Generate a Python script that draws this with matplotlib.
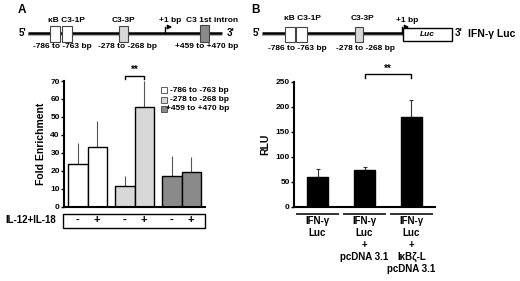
import matplotlib
matplotlib.use("Agg")
import matplotlib.pyplot as plt
from matplotlib.patches import Rectangle
import matplotlib.transforms as mtransforms

plt.rcParams['font.family'] = ['Liberation Sans', 'DejaVu Sans']
plt.rcParams['font.weight'] = 'bold'

# ---------------- data ----------------
a_regions = ["-786 to -763 bp", "-278 to -268 bp", "+459 to +470 bp"]
a_colors = ["#ffffff", "#d8d8d8", "#8a8a8a"]
a_minus = [23.7, 11.7, 17.0]
a_plus = [33.3, 55.6, 19.3]
a_minus_err = [11.5, 5.5, 11.2]
a_plus_err = [14.5, 14.2, 8.5]
a_signs = ["-", "+"]
a_yticks = [0, 10, 20, 30, 40, 50, 60, 70]

b_labels = ["IFN-γ\nLuc", "IFN-γ\nLuc\n+\npcDNA 3.1", "IFN-γ\nLuc\n+\nIκBζ-L\npcDNA 3.1"]
b_values = [60, 73, 180]
b_err = [15, 7, 33]
b_yticks = [0, 50, 100, 150, 200, 250]

W, H = 520, 281
fig = plt.figure(figsize=(W / 100, H / 100), dpi=100)

# overlay in pixel coordinates
ov = fig.add_axes([0, 0, 1, 1])
ov.set_xlim(0, W)
ov.set_ylim(H, 0)
ov.axis('off')


def px_axes(x0, x1, ytop, ybot):
    return fig.add_axes([x0 / W, (H - ybot) / H, (x1 - x0) / W, (ybot - ytop) / H])


def style_axes(ax):
    for s in ['top', 'right']:
        ax.spines[s].set_visible(False)
    ax.spines['left'].set_linewidth(1.5)
    ax.spines['bottom'].set_linewidth(1.5)
    ax.tick_params(axis='y', length=2, width=1, labelsize=6, pad=1)
    ax.tick_params(axis='x', length=0, labelbottom=False)
    ax.patch.set_alpha(0)


# ---------------- gene diagrams ----------------
def gene_line(x0, x1, y=33):
    ov.plot([x0, x1], [y + 2, y + 2], color='#b0b0b0', lw=1.6, solid_capstyle='butt', zorder=1)
    ov.plot([x0, x1], [y, y], color='black', lw=1.8, solid_capstyle='butt', zorder=2)


def box(x0, x1, y0, y1, fc):
    ov.add_patch(Rectangle((x0, y0), x1 - x0, y1 - y0, facecolor=fc, edgecolor='#444444', lw=0.8, zorder=3))


def tss(x, y=33, L=10):
    ov.plot([x, x], [y, y - 6], color='black', lw=1.0, zorder=4)
    ov.annotate('', xy=(x + L, y - 6), xytext=(x, y - 6),
                arrowprops=dict(arrowstyle='-|>', color='black', lw=1.0, mutation_scale=6), zorder=4)


tfs = 6
# Panel A diagram
ov.text(22, 10, 'A', fontsize=8.5, fontweight='bold', ha='center', va='center')
ov.text(23, 33, "5'", fontsize=7, fontweight='bold', ha='center', va='center')
gene_line(28, 222)
box(50, 60, 26, 42, 'white')
box(62, 72, 26, 42, 'white')
box(119, 128, 26, 42, '#d8d8d8')
box(200, 209, 25, 42, '#8a8a8a')
tss(165)
ov.text(231, 33, "3'", fontsize=7, fontweight='bold', ha='center', va='center')
ov.text(66, 20, 'κB C3-1P', fontsize=tfs, ha='center', va='center')
ov.text(123, 20, 'C3-3P', fontsize=tfs, ha='center', va='center')
ov.text(170, 20, '+1 bp', fontsize=tfs, ha='center', va='center')
ov.text(212, 20, 'C3 1st intron', fontsize=tfs, ha='center', va='center')
ov.text(62, 47, a_regions[0], fontsize=tfs, ha='center', va='center')
ov.text(127, 47, a_regions[1], fontsize=tfs, ha='center', va='center')
ov.text(207, 47, a_regions[2], fontsize=tfs, ha='center', va='center')

# Panel B diagram
ov.text(256, 10, 'B', fontsize=8.5, fontweight='bold', ha='center', va='center')
ov.text(257, 33, "5'", fontsize=7, fontweight='bold', ha='center', va='center')
gene_line(262, 404)
box(285, 295, 27, 42, 'white')
box(296, 307, 27, 42, 'white')
box(355, 363, 27, 42, '#d8d8d8')
tss(402)
ov.add_patch(Rectangle((403, 28), 49, 13, facecolor='white', edgecolor='black', lw=1.0, zorder=5))
ov.text(427.5, 34.5, 'Luc', fontsize=6, style='italic', ha='center', va='center', zorder=6)
ov.text(459, 33, "3'", fontsize=7, fontweight='bold', ha='center', va='center')
ov.text(492, 34, 'IFN-γ Luc', fontsize=7.5, fontweight='bold', ha='center', va='center')
ov.text(302, 19, 'κB C3-1P', fontsize=tfs, ha='center', va='center')
ov.text(362, 19, 'C3-3P', fontsize=tfs, ha='center', va='center')
ov.text(407, 20, '+1 bp', fontsize=tfs, ha='center', va='center')
ov.text(297, 48, a_regions[0], fontsize=tfs, ha='center', va='center')
ov.text(365, 48, a_regions[1], fontsize=tfs, ha='center', va='center')

# ---------------- Panel A bars ----------------
axA = px_axes(64, 205, 81, 206.7)
style_axes(axA)
axA.set_xlim(-0.5, 2.5)
axA.set_ylim(0, 70)
axA.set_yticks(a_yticks)
wA = 0.415
centers_A = []
for g in range(3):
    xm = g - wA / 2
    xp = g + wA / 2
    centers_A += [xm, xp]
    axA.bar([xm, xp], [a_minus[g], a_plus[g]], width=wA, color=a_colors[g],
            edgecolor='black', linewidth=1.0, zorder=2)
    axA.errorbar([xm, xp], [a_minus[g], a_plus[g]],
                 yerr=[[0, 0], [a_minus_err[g], a_plus_err[g]]],
                 fmt='none', ecolor='#555555', elinewidth=0.8, capsize=0, zorder=1)
axA.set_ylabel('Fold Enrichment', fontsize=7.5, fontweight='bold', labelpad=3)

# bracket A
bx0, bx1 = centers_A[2], centers_A[3]
axA.plot([bx0, bx0, bx1, bx1], [71, 72.8, 72.8, 71], color='black', lw=1.0, clip_on=False)
axA.text((bx0 + bx1) / 2, 73.5, '**', fontsize=7, ha='center', va='bottom')

# legend A
for i, (lab, col) in enumerate(zip(a_regions, a_colors)):
    y = 90 + i * 9.5
    ov.add_patch(Rectangle((161, y - 3), 6, 6, facecolor=col, edgecolor='#444444', lw=0.6))
    ov.text(229, y, lab, fontsize=6, ha='right', va='center')

# IL-12 table
ov.add_patch(Rectangle((63, 213.5), 142, 14, facecolor='none', edgecolor='black', lw=1.0))
ov.text(30.5, 220, 'IL-12+IL-18', fontsize=7, fontweight='bold', ha='center', va='center')
trA = mtransforms.blended_transform_factory(axA.transData, ov.transData)
for i, xc in enumerate(centers_A):
    ov.text(xc, 220, a_signs[i % 2], fontsize=8, fontweight='bold', ha='center', va='center',
            transform=trA)

# ---------------- Panel B bars ----------------
axB = px_axes(294, 435, 81.7, 206.7)
style_axes(axB)
axB.set_xlim(-0.5, 2.5)
axB.set_ylim(0, 250)
axB.set_yticks(b_yticks)
wB = 0.45
xs = list(range(len(b_values)))
axB.bar(xs, b_values, width=wB, color='black', edgecolor='black', zorder=2)
axB.errorbar(xs, b_values, yerr=[[0] * 3, b_err], fmt='none', ecolor='#333333',
             elinewidth=0.8, capsize=1.5, capthick=0.8, zorder=1)
axB.set_ylabel('RLU', fontsize=7.5, fontweight='bold', labelpad=4)

# bracket B
axB.plot([1, 1, 2, 2], [257, 265, 265, 257], color='black', lw=1.0, clip_on=False)
axB.text(1.5, 266, '**', fontsize=7, ha='center', va='bottom')

trB = mtransforms.blended_transform_factory(axB.transData, ov.transData)
for i, lab in enumerate(b_labels):
    ov.plot([i - 0.43, i + 0.43], [214, 214], color='#333333', lw=1.4, transform=trB)
    ov.text(i, 216, lab, fontsize=7, fontweight='bold', ha='center', va='top',
            linespacing=1.25, transform=trB)

fig.savefig('out.png', dpi=100)
